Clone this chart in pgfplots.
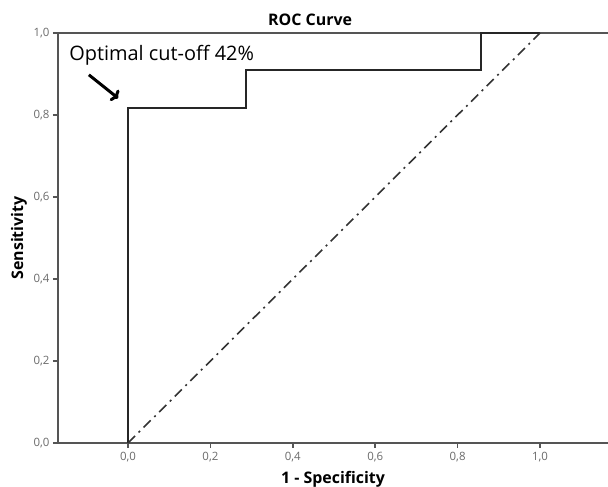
\documentclass[border=0pt]{standalone}
\usepackage{pgfplots}
\pgfplotsset{compat=1.18}
\usepackage{fontspec}
\setmainfont{Open Sans}
\usetikzlibrary{arrows.meta}
\definecolor{axgray}{HTML}{555555}
\definecolor{lblgray}{HTML}{6A6A6A}
\begin{document}
\begin{tikzpicture}
\begin{axis}[
  scale only axis,
  width=550bp, height=410bp,
  xmin=-0.1699, xmax=1.165,
  ymin=0, ymax=1,
  axis x line*=bottom, axis y line*=left,
  axis line style={axgray, line width=1.8pt, -},
  xtick={0,0.2,0.4,0.6,0.8,1.0},
  ytick={0,0.2,0.4,0.6,0.8,1.0},
  tick align=outside,
  major tick length=5bp,
  tick style={axgray, line width=1.6pt},
  /pgf/number format/.cd, fixed, fixed zerofill, precision=1, use comma, assume math mode=true,
  /pgfplots/.cd,
  tick label style={font=\fontsize{11.5}{13}\selectfont, text=lblgray},
  xticklabel style={yshift=-1bp},
  xlabel={\textbf{1 - Specificity}},
  ylabel={\textbf{Sensitivity}},
  label style={font=\fontsize{16}{18}\selectfont},
  xlabel style={at={(axis description cs:0.5,0)}, anchor=base, yshift=-40bp},
  ylabel style={at={(axis description cs:-0.0709,0.5)}, anchor=center},
  clip=false,
]
\draw[axgray, line width=1.8pt] (rel axis cs:0,1) -- (rel axis cs:1,1);
\addplot[black!85, line width=2pt, const plot] coordinates {
  (0,0) (0,0.8182) (0.2857,0.8182) (0.2857,0.9091) (0.8571,0.9091) (0.8571,1) (1,1)
};
\addplot[black!80, line width=1.6pt, dash pattern=on 10bp off 5bp on 2bp off 5bp] coordinates {(0,0) (1,1)};
\node[anchor=base, font=\bfseries\fontsize{16}{18}\selectfont] at (axis cs:0.442,1) [yshift=7bp] {ROC Curve};
\node[anchor=west, font=\fontsize{20}{24}\selectfont, inner sep=0pt] at (axis cs:-0.143,0.945) {Optimal cut-off 42\%};
\draw[line width=3pt, -{To[length=6bp,width=14bp]}] (axis cs:-0.095,0.898) -- (axis cs:-0.024,0.841);
\coordinate (sw) at (rel axis cs:0,0);
\coordinate (ne) at (rel axis cs:1,1);
\end{axis}
\pgfresetboundingbox
\path ([shift={(-58bp,-44bp)}]sw) rectangle ([shift={(0bp,33bp)}]ne);
\end{tikzpicture}
\end{document}
